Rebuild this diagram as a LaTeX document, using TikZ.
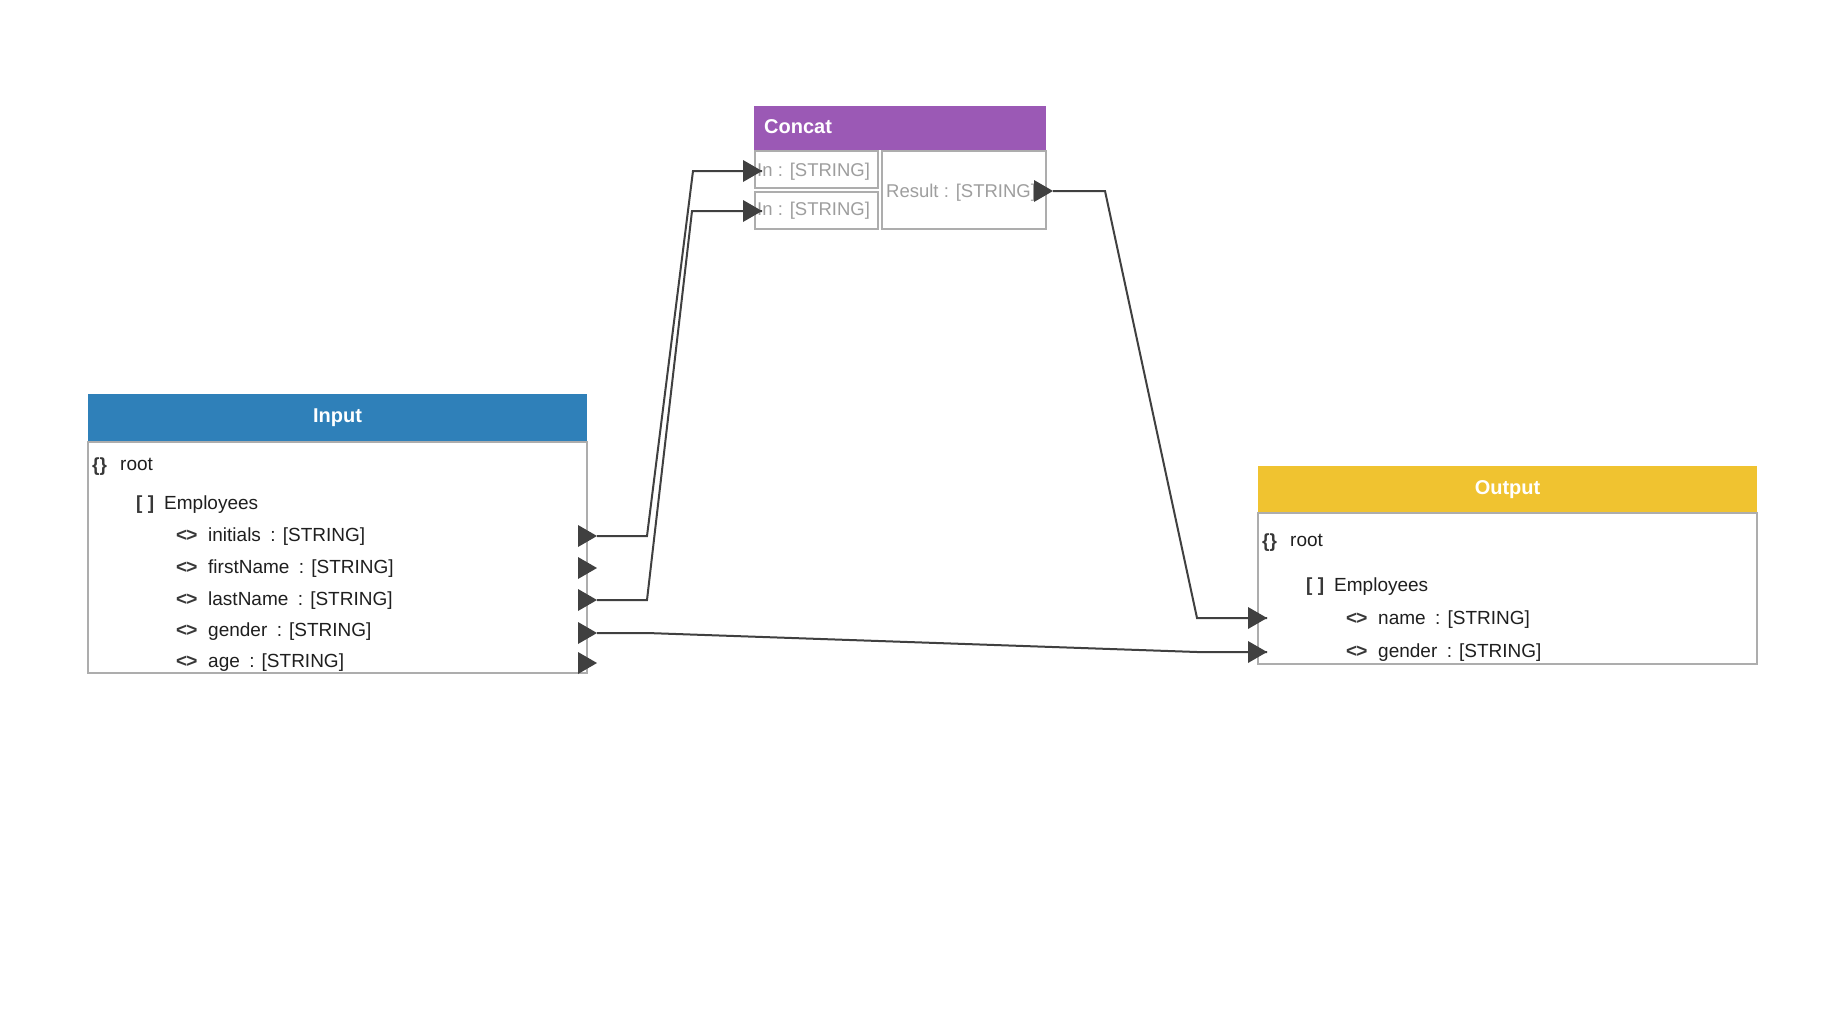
\documentclass[tikz,border=0pt]{standalone}
\usepackage{fontspec}
\setmainfont{Liberation Sans}
\begin{document}
\begin{tikzpicture}[x=1pt,y=-1pt,
  txt/.style={anchor=base west,inner sep=0pt,text=black!88,font=\fontsize{19}{21}\selectfont},
  icon/.style={anchor=base west,inner sep=0pt,text=black!78,font=\fontsize{19}{21}\selectfont\bfseries},
  grey/.style={anchor=base west,inner sep=0pt,text=black!38,font=\fontsize{18.5}{20}\selectfont},
  head/.style={inner sep=0pt,text=white,font=\fontsize{20}{22}\selectfont\bfseries},
  frame/.style={draw=black!32,line width=2pt},
  link/.style={draw=black!75,line width=2pt},
  porttip/.pic={\fill[black!75] (-19,-11) -- (0,0) -- (-19,11) -- cycle;}]
\definecolor{inblue}{HTML}{2F80B9}
\definecolor{cpurple}{HTML}{9B59B5}
\definecolor{outyel}{HTML}{F0C330}
\useasboundingbox[fill=white] (0,0) rectangle (1822,1014);

% ---- Input schema ----
\fill[inblue] (88,394) rectangle (587,442);
\draw[frame] (88,442) rectangle (587,673);
\node[head] (inhead) at (337.5,418) {Input};
\node[icon] (inroot-i) at (92,471) {\{\}};
\node[txt] (inroot) at (120,470) {root};
\node[icon] (inemp-i) at (136,509) {[ ]};
\node[txt] (inemp) at (164,509) {Employees};
\node[icon] at (176,541) {<\kern-1pt>};
\node[txt] at (208,541) {initials\enspace: [STRING]};
\node[icon] at (176,573) {<\kern-1pt>};
\node[txt] at (208,573) {firstName\enspace: [STRING]};
\node[icon] at (176,605) {<\kern-1pt>};
\node[txt] at (208,605) {lastName\enspace: [STRING]};
\node[icon] at (176,636) {<\kern-1pt>};
\node[txt] at (208,636) {gender\enspace: [STRING]};
\node[icon] at (176,667) {<\kern-1pt>};
\node[txt] at (208,667) {age\enspace: [STRING]};
\coordinate (pini) at (597,536);
\coordinate (pfirst) at (597,568);
\coordinate (plast) at (597,600);
\coordinate (pgen) at (597,633);
\coordinate (page) at (597,663);

% ---- Concat function ----
\fill[cpurple] (754,106) rectangle (1046,150);
\node[head,anchor=west] (chead) at (764,127) {Concat};
\draw[frame] (755,151) rectangle (878,188);
\draw[frame] (755,192) rectangle (878,229);
\draw[frame] (882,151) rectangle (1046,229);
\node[grey] at (757,176) {In : [STRING]};
\node[grey] at (757,215) {In : [STRING]};
\node[grey] at (886,197) {Result : [STRING]};
\coordinate (cin1) at (762,171);
\coordinate (cin2) at (762,211);
\coordinate (cres) at (1053,191);

% ---- Output schema ----
\fill[outyel] (1258,466) rectangle (1757,513);
\draw[frame] (1258,513) rectangle (1757,664);
\node[head] (outhead) at (1507.5,489.5) {Output};
\node[icon] at (1262,547) {\{\}};
\node[txt] at (1290,546) {root};
\node[icon] at (1306,591) {[ ]};
\node[txt] at (1334,591) {Employees};
\node[icon] at (1346,624) {<\kern-1pt>};
\node[txt] at (1378,624) {name\enspace: [STRING]};
\node[icon] at (1346,657) {<\kern-1pt>};
\node[txt] at (1378,657) {gender\enspace: [STRING]};
\coordinate (oname) at (1267,618);
\coordinate (ogen) at (1267,652);

% ---- mappings ----
\draw[link] (pini) -- ++(50,0) -- ([xshift=-69pt]cin1) -- (cin1);
\draw[link] (plast) -- ++(50,0) -- ([xshift=-70pt]cin2) -- (cin2);
\draw[link] (cres) -- ++(52,0) -- ([xshift=-70pt]oname) -- (oname);
\draw[link] (pgen) -- ++(50,0) -- ([xshift=-70pt]ogen) -- (ogen);

% ---- port markers ----
\foreach \p in {pini,pfirst,plast,pgen,page,cin1,cin2,cres,oname,ogen}
  \pic at (\p) {porttip};
\end{tikzpicture}
\end{document}
